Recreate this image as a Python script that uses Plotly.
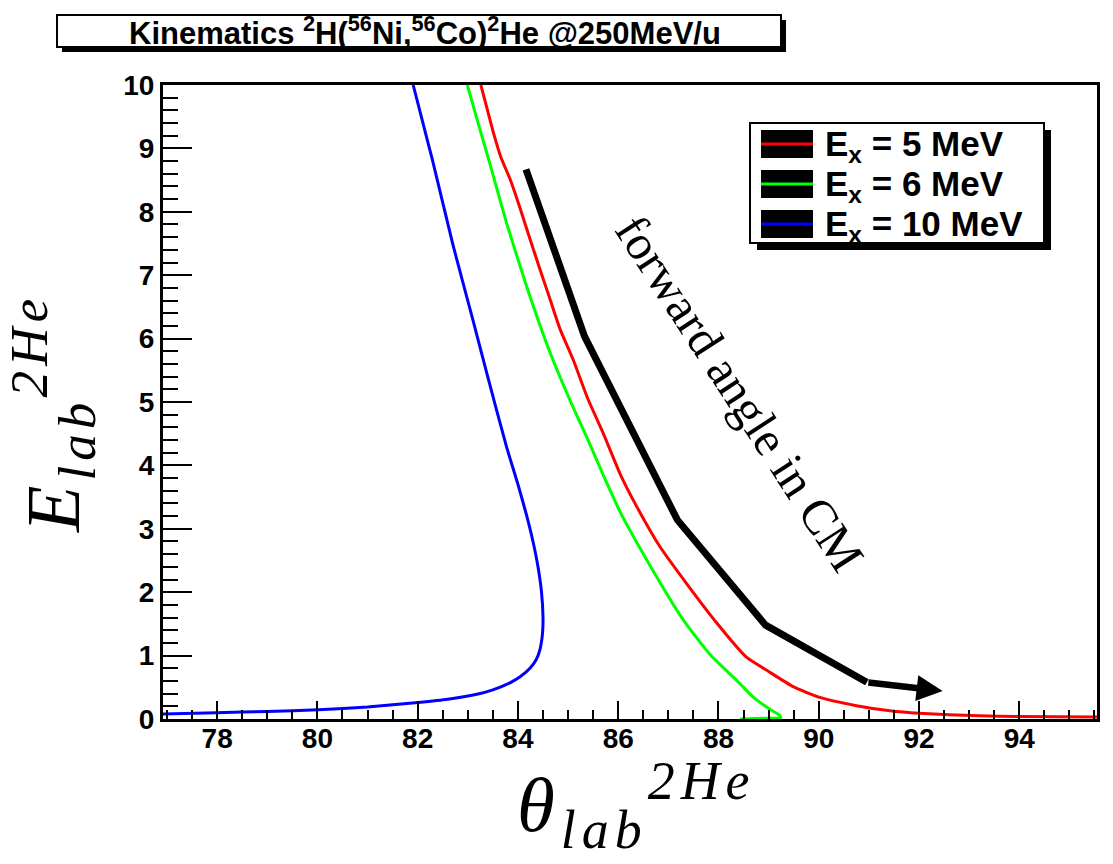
import plotly.graph_objects as go

# ---------------- data ----------------
series_names = ["E<sub>x</sub> = 5 MeV", "E<sub>x</sub> = 6 MeV", "E<sub>x</sub> = 10 MeV"]
series_colors = ["#ff0000", "#00ff00", "#0000ff"]

theta_ex5 = [83.26, 83.40, 83.52, 83.66, 83.84, 84.07, 84.24, 84.44, 84.64, 84.84, 85.10, 85.40,
             85.70, 86.03, 86.37, 86.83, 87.36, 87.95, 88.55, 89.00, 89.49, 90.02, 90.75,
             91.42, 92.00, 93.20, 94.00, 95.55]
energy_ex5 = [10.0, 9.58, 9.22, 8.86, 8.52, 7.99, 7.57, 7.09, 6.62, 6.15, 5.67, 5.04,
              4.51, 3.88, 3.35, 2.72, 2.14, 1.53, 0.98, 0.75, 0.51, 0.34, 0.21,
              0.13, 0.09, 0.05, 0.04, 0.03]

theta_ex6 = [82.99, 83.22, 83.44, 83.77, 84.17, 84.64, 85.07, 85.37, 85.70, 86.03, 86.43, 86.88,
             87.30, 87.85, 88.40, 88.70, 89.05, 89.22, 89.24, 88.90, 88.43]
energy_ex6 = [10.0, 9.36, 8.76, 7.83, 6.83, 5.78, 4.97, 4.45, 3.85, 3.28, 2.70, 2.09,
              1.56, 1.00, 0.58, 0.34, 0.14, 0.06, 0.02, 0.01, 0.0]

theta_ex10 = [81.91, 82.30, 82.71, 83.10, 83.41, 83.77, 84.00, 84.17, 84.30, 84.40, 84.47,
              84.50, 84.49, 84.44, 84.36, 84.24, 84.05, 83.84, 83.50, 83.18, 82.60, 82.01,
              81.00, 80.02, 79.00, 77.99, 76.90]
energy_ex10 = [10.0, 8.80, 7.46, 6.30, 5.36, 4.30, 3.70, 3.22, 2.80, 2.40, 2.00,
               1.60, 1.35, 1.10, 0.93, 0.80, 0.67, 0.57, 0.46, 0.39, 0.31, 0.26,
               0.19, 0.145, 0.12, 0.10, 0.08]

arrow_theta = [84.16, 85.33, 87.18, 88.94, 90.96, 92.47]
arrow_energy = [8.67, 6.03, 3.14, 1.48, 0.58, 0.44]
arrow_label = "forward angle in CM"

x_range = [76.92, 95.55]
y_range = [0, 10]
title_text = ("Kinematics <sup>2</sup>H(<sup>56</sup>Ni,<sup>56</sup>Co)<sup>2</sup>He "
              "@250MeV/u")
x_title = "<i>θ<sub>lab</sub><sup>2He</sup></i>"
y_title = "<i>E<sub>lab</sub><sup>2He</sup></i>"

# ---------------- layout geometry (pixels) ----------------
W, H = 1113, 864
L, R, T, B = 163, 1097, 85, 719
PW, PH = R - L, B - T


def px(x):
    return (x - L) / PW


def py(y):
    return (B - y) / PH


fig = go.Figure()

for th, en, col in zip([theta_ex5, theta_ex6, theta_ex10],
                       [energy_ex5, energy_ex6, energy_ex10], series_colors):
    fig.add_trace(go.Scatter(x=th, y=en, mode="lines",
                             line=dict(color=col, width=3, shape="spline", smoothing=0.5),
                             showlegend=False, hoverinfo="skip"))

# arrow body
fig.add_trace(go.Scatter(x=arrow_theta[:-1], y=arrow_energy[:-1], mode="lines",
                         line=dict(color="black", width=7), showlegend=False,
                         hoverinfo="skip"))

annotations = []
# arrow head (last segment)
annotations.append(dict(x=arrow_theta[-1], y=arrow_energy[-1], xref="x", yref="y",
                        ax=arrow_theta[-2], ay=arrow_energy[-2], axref="x", ayref="y",
                        text="", showarrow=True, arrowhead=2, arrowwidth=6.5,
                        arrowsize=0.8, arrowcolor="black", standoff=0))
annotations.append(dict(x=px(740), y=py(393), xref="paper", yref="paper",
                        text=arrow_label, showarrow=False, textangle=57,
                        font=dict(family="Liberation Serif", size=49, color="black"),
                        xanchor="center", yanchor="middle"))

# axis titles
annotations.append(dict(x=px(636), y=py(805), xref="paper", yref="paper",
                        text='<span style="letter-spacing:6px">' + x_title + '</span>',
                        showarrow=False, xanchor="center", yanchor="middle",
                        font=dict(family="Liberation Serif", size=77, color="black")))
annotations.append(dict(x=px(53), y=py(414), xref="paper", yref="paper",
                        text='<span style="letter-spacing:5px">' + y_title + '</span>',
                        showarrow=False, xanchor="center", yanchor="middle",
                        textangle=-90,
                        font=dict(family="Liberation Serif", size=76, color="black")))

shapes = []
# title box with shadow
shapes.append(dict(type="rect", xref="paper", yref="paper", x0=px(62), x1=px(786),
                   y0=py(20), y1=py(52), fillcolor="black", line=dict(width=0)))
shapes.append(dict(type="rect", xref="paper", yref="paper", x0=px(57), x1=px(781),
                   y0=py(15), y1=py(47), fillcolor="white",
                   line=dict(color="black", width=2)))
annotations.append(dict(x=px(425), y=py(31), xref="paper", yref="paper", text=title_text,
                        showarrow=False, xanchor="center", yanchor="middle",
                        font=dict(family="Liberation Sans", size=31, color="black",
                                  weight="bold")))

# legend box with shadow
shapes.append(dict(type="rect", xref="paper", yref="paper", x0=px(757), x1=px(1051),
                   y0=py(130), y1=py(250), fillcolor="black", line=dict(width=0)))
shapes.append(dict(type="rect", xref="paper", yref="paper", x0=px(750), x1=px(1044),
                   y0=py(123), y1=py(243), fillcolor="white",
                   line=dict(color="black", width=2)))
row_centers = [144, 184, 224]
for name, col, rc in zip(series_names, series_colors, row_centers):
    shapes.append(dict(type="rect", xref="paper", yref="paper", x0=px(761), x1=px(813),
                       y0=py(rc - 14), y1=py(rc + 14), fillcolor="black",
                       line=dict(width=0)))
    shapes.append(dict(type="line", xref="paper", yref="paper", x0=px(761), x1=px(813),
                       y0=py(rc), y1=py(rc), line=dict(color=col, width=3)))
    annotations.append(dict(x=px(823), y=py(rc + 2), xref="paper", yref="paper",
                            text=name, showarrow=False, xanchor="left",
                            yanchor="middle",
                            font=dict(family="Liberation Sans", size=35, color="black",
                                      weight="bold")))

tickfont = dict(family="Liberation Sans", size=28, color="black", weight="bold")

fig.update_layout(
    width=W, height=H,
    margin=dict(l=L, r=W - R, t=T, b=H - B, autoexpand=False),
    paper_bgcolor="white", plot_bgcolor="white",
    showlegend=False,
    shapes=shapes, annotations=annotations,
    xaxis=dict(range=x_range, tick0=78, dtick=2, ticks="inside", ticklen=18,
               tickwidth=2, tickcolor="black", showline=True, linecolor="black",
               linewidth=3, mirror=True, showgrid=False, zeroline=False,
               tickfont=tickfont, ticklabelstandoff=-8,
               minor=dict(ticks="inside", ticklen=9, tickwidth=2, dtick=0.5,
                          tickcolor="black", showgrid=False)),
    yaxis=dict(range=y_range, tick0=0, dtick=1, ticks="inside", ticklen=29,
               tickwidth=2, tickcolor="black", showline=True, linecolor="black",
               linewidth=3, mirror=True, showgrid=False, zeroline=False,
               tickfont=tickfont,
               minor=dict(ticks="inside", ticklen=15, tickwidth=2, dtick=0.2,
                          tickcolor="black", showgrid=False)),
)

fig.write_html("out.html")
